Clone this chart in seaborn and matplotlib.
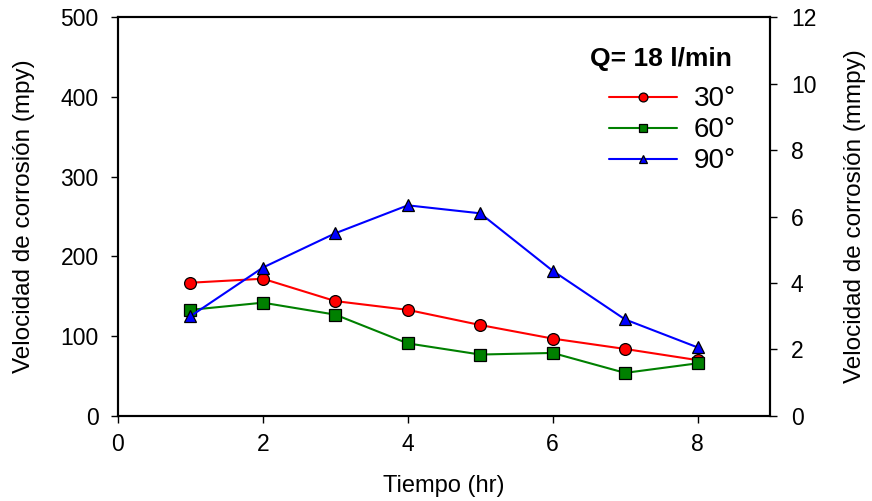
import matplotlib
matplotlib.use("Agg")
import matplotlib.pyplot as plt
import seaborn as sns
import pandas as pd

# Corrosion rate (mpy) over time for three inclination angles at Q = 18 l/min
tiempo = [1, 2, 3, 4, 5, 6, 7, 8]
v30 = [167, 172, 144, 133, 114, 97, 84, 70]
v60 = [133, 142, 127, 91, 77, 79, 54, 66]
v90 = [125, 186, 229, 264, 254, 182, 121, 86]
angulos = ["30°", "60°", "90°"]
x_ticks = [0, 2, 4, 6, 8]
y_ticks = [0, 100, 200, 300, 400, 500]
y2_ticks = [0, 2, 4, 6, 8, 10, 12]

df = pd.DataFrame({
    "Tiempo": tiempo * 3,
    "Velocidad": v30 + v60 + v90,
    "Angulo": [a for a in angulos for _ in tiempo],
})

sns.set_theme(style="ticks")
plt.rcParams["font.family"] = ["Liberation Sans", "DejaVu Sans"]
plt.rcParams["text.color"] = "black"
plt.rcParams["axes.labelcolor"] = "black"

fig = plt.figure(figsize=(8.72, 5.01), dpi=100)
ax = fig.add_axes([0.1353, 0.1697, 0.7477, 0.7963])

colores = {"30°": "#ff0000", "60°": "#008000", "90°": "#0000ff"}
marcadores = {"30°": "o", "60°": "s", "90°": "^"}

sns.lineplot(data=df, x="Tiempo", y="Velocidad", hue="Angulo", style="Angulo",
             palette=colores, markers=marcadores, dashes=False, ax=ax,
             linewidth=1.5, markersize=8.5, markeredgecolor="black",
             markeredgewidth=0.9)

ax.set_xlim(0, 9)
ax.set_ylim(0, 500)
ax.set_xticks(x_ticks)
ax.set_yticks(y_ticks)
ax.tick_params(axis="both", labelsize=16.5, direction="out", length=5,
               width=1, colors="black")
ax.tick_params(axis="x", pad=7)
ax.tick_params(axis="y", pad=9)
ax.set_xlabel("Tiempo (hr)", fontsize=17, labelpad=14)
ax.set_ylabel("Velocidad de corrosión (mpy)", fontsize=17.5, labelpad=18)
for s in ax.spines.values():
    s.set_linewidth(1.5)
    s.set_color("black")

ax2 = ax.twinx()
ax2.set_ylim(0, 12)
ax2.set_yticks(y2_ticks)
ax2.tick_params(axis="y", labelsize=16.5, direction="out", length=5,
                width=1, colors="black", pad=10)
ax2.set_ylabel("Velocidad de corrosión (mmpy)", fontsize=17.5, labelpad=20)
for s in ax2.spines.values():
    s.set_linewidth(1.5)
    s.set_color("black")

handles, labels = ax.get_legend_handles_labels()
ax.get_legend().remove()
ax.text(0.833, 0.895, "Q= 18 l/min", transform=ax.transAxes, ha="center",
        va="center", fontsize=19, fontweight="bold")
leg = ax.legend(handles, labels, loc="upper right", bbox_to_anchor=(0.948, 0.826),
                frameon=False, fontsize=20, borderaxespad=0, borderpad=0,
                handlelength=2.45, handletextpad=0.6, labelspacing=0.18,
                markerscale=0.75)

fig.savefig("out.png", dpi=100)
